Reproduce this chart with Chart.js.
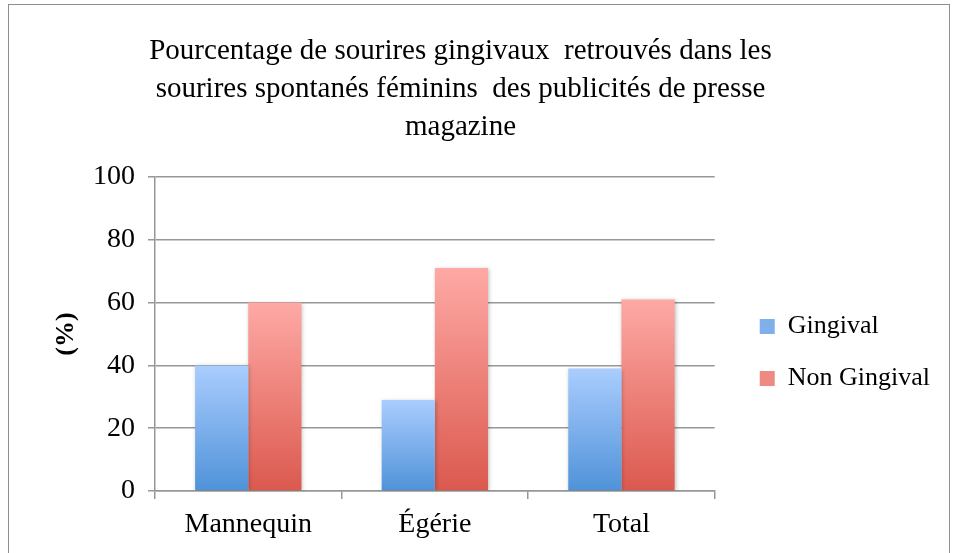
<!DOCTYPE html>
<html>
<head>
<meta charset="utf-8">
<script src="https://cdn.jsdelivr.net/npm/chart.js@4.4.1/dist/chart.umd.min.js"></script>
<style>
  body { margin: 0; background: #fff; }
  #wrap { position: relative; width: 956px; height: 553px; }
  #frame { position: absolute; left: 8px; top: 4px; width: 942px; height: 560px; border: 1px solid #8e8e8e; box-sizing: border-box; pointer-events: none; }
</style>
</head>
<body>
<div id="wrap">
  <canvas id="myChart" width="956" height="553"></canvas>
  <div id="frame"></div>
</div>
<script>
// data
var categories = ['Mannequin', 'Égérie', 'Total'];
var gingival = [40, 29, 39];
var nonGingival = [60, 71, 61];
var yTicks = [0, 20, 40, 60, 80, 100];
var titleLines = [
  'Pourcentage de sourires gingivaux  retrouvés dans les',
  'sourires spontanés féminins  des publicités de presse',
  'magazine'
];

var serif = "'Liberation Serif', 'DejaVu Serif', serif";

function barGradient(top, bottom) {
  return function (context) {
    var chart = context.chart;
    if (!chart.chartArea || context.raw === undefined) return bottom;
    var y = chart.scales.y;
    var y0 = y.getPixelForValue(context.raw);
    var y1 = y.getPixelForValue(0);
    var g = chart.ctx.createLinearGradient(0, y0, 0, y1);
    g.addColorStop(0, top);
    g.addColorStop(1, bottom);
    return g;
  };
}

// soft shadow under the bars
var barShadow = {
  id: 'barShadow',
  beforeDatasetsDraw: function (chart) {
    var c = chart.ctx;
    c.save();
    c.shadowColor = 'rgba(0,0,0,0.25)';
    c.shadowBlur = 4;
    c.shadowOffsetX = 1;
    c.shadowOffsetY = 1;
  },
  afterDatasetsDraw: function (chart) {
    chart.ctx.restore();
  }
};

// push the legend a bit away from the plot, like the original
var legendShift = {
  id: 'legendShift',
  afterLayout: function (chart) {
    var lg = chart.legend;
    lg.left += 19; lg.right += 19;
    lg.top += 76; lg.bottom += 76;
  }
};

var ctx = document.getElementById('myChart');
new Chart(ctx, {
  type: 'bar',
  data: {
    labels: categories,
    datasets: [{
      label: 'Gingival',
      data: gingival,
      backgroundColor: barGradient('#aacdfe', '#4f92d9'),
      legendColor: '#7fb0ec'
    }, {
      label: 'Non Gingival',
      data: nonGingival,
      backgroundColor: barGradient('#fea9a5', '#db594e'),
      legendColor: '#ef8a83'
    }]
  },
  options: {
    responsive: false,
    animation: false,
    layout: { padding: { left: 0, right: 35, top: 0, bottom: 0 } },
    datasets: {
      bar: { categoryPercentage: 0.57, barPercentage: 1.0 }
    },
    plugins: {
      title: {
        display: true,
        text: titleLines,
        color: '#000',
        font: { family: serif, size: 29, weight: 'normal', lineHeight: 1.31 },
        padding: { top: 32, bottom: 31 }
      },
      legend: {
        position: 'right',
        labels: {
          color: '#000',
          font: { family: serif, size: 26 },
          boxWidth: 15,
          boxHeight: 15,
          padding: 26,
          generateLabels: function (chart) {
            return chart.data.datasets.map(function (ds, i) {
              return {
                text: ds.label,
                fillStyle: ds.legendColor,
                strokeStyle: ds.legendColor,
                lineWidth: 0,
                datasetIndex: i,
                hidden: false
              };
            });
          }
        }
      },
      tooltip: { enabled: false }
    },
    scales: {
      x: {
        grid: {
          display: true,
          offset: true,
          drawOnChartArea: false,
          color: '#979797',
          lineWidth: 1.5,
          tickLength: 8
        },
        border: { color: '#979797', width: 1.5 },
        ticks: {
          color: '#000',
          font: { family: serif, size: 28 },
          padding: 9
        },
        afterFit: function (scale) { scale.height = 62; }
      },
      y: {
        min: 0,
        max: 100,
        afterBuildTicks: function (scale) {
          scale.ticks = yTicks.map(function (v) { return { value: v }; });
        },
        grid: {
          color: '#979797',
          lineWidth: 1.5,
          tickLength: 7
        },
        border: { color: '#979797', width: 1.5 },
        ticks: {
          color: '#000',
          font: { family: serif, size: 28 },
          padding: 13
        },
        title: {
          display: true,
          text: '(%)',
          color: '#000',
          font: { family: serif, size: 26, weight: 'bold' },
          padding: { top: 51, bottom: 0 }
        },
        afterFit: function (scale) { scale.width = 155; }
      }
    }
  },
  plugins: [barShadow, legendShift]
});
</script>
</body>
</html>
